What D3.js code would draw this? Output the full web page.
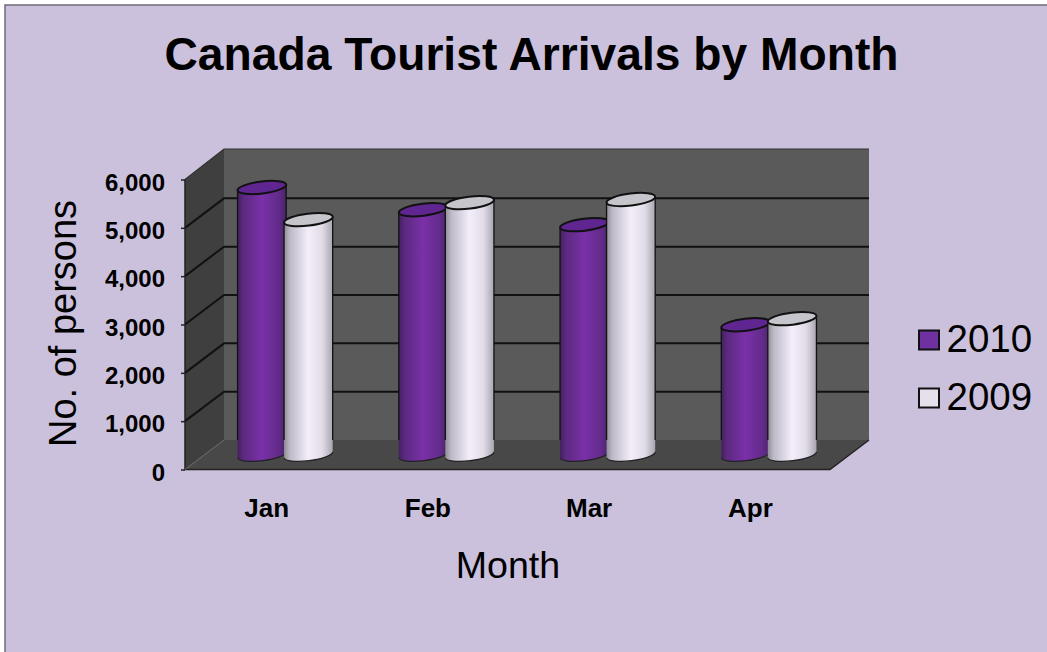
<!DOCTYPE html>
<html><head><meta charset="utf-8">
<script src="https://cdn.jsdelivr.net/npm/d3@7"></script>
<style>html,body{margin:0;padding:0;background:#fff}svg{display:block}text{font-family:"Liberation Sans",Arial,sans-serif;fill:#000}</style>
</head><body><svg id="c" width="1047" height="652"></svg>
<script>
const months = ["Jan","Feb","Mar","Apr"];
const years = ["2010","2009"];
const values2010 = [5530,5070,4760,2690];
const values2009 = [4865,5217,5280,2815];
const yTicks = [0,1000,2000,3000,4000,5000,6000];
const titleText = "Canada Tourist Arrivals by Month";
const yTitle = "No. of persons";
const xTitle = "Month";

const W=1047,H=652;
const svg=d3.select("#c");
const depthX=39, depthY=-29.5;
const y=d3.scaleLinear().domain([0,6000]).range([469.5,179.5]);
const x0=d3.scaleBand().domain(months).range([185,830]);
const x1=d3.scaleBand().domain(years).range([0,97]);
const fmt=d3.format(",");

const defs=svg.append("defs");
function grad(id,stops){
  const g=defs.append("linearGradient").attr("id",id).attr("x1","0").attr("x2","1").attr("y1","0").attr("y2","0");
  stops.forEach(s=>g.append("stop").attr("offset",s[0]).attr("stop-color",s[1]));
}
grad("gp",[[0,"#43205f"],[0.12,"#5b2a80"],[0.5,"#7a30a8"],[0.85,"#622b8a"],[1,"#4a2468"]]);
grad("gw",[[0,"#8f8d96"],[0.12,"#bdb9c6"],[0.5,"#f3eefa"],[0.78,"#e2dce9"],[1,"#a9a6b0"]]);
const gradId={"2010":"gp","2009":"gw"};
const topFill={"2010":"#5f2590","2009":"#c7c5cc"};
const legFill={"2010":"#7030a0","2009":"#e6e0ec"};
const shift={"2010":1,"2009":-1};

svg.append("rect").attr("x",5).attr("y",5).attr("width",W-5).attr("height",H-5).attr("fill","#cbc1dc");
svg.append("path").attr("fill","none").attr("stroke","#6f6b7a").attr("stroke-width",1.5)
  .attr("d",`M5,${H}L5,5L${W},5`);

svg.append("text").attr("x",531.5).attr("y",70).attr("text-anchor","middle")
  .attr("font-size",46.2).attr("font-weight","bold").text(titleText);

// walls
const yB=v=>y(v)+depthY, xL=185, xR=830;
const topBack=yB(6000)-1;
const poly=(pts,fill)=>svg.append("polygon").attr("points",pts.map(p=>p.join(",")).join(" ")).attr("fill",fill);
poly([[xL+depthX,topBack],[xR+depthX,topBack],[xR+depthX,yB(0)],[xL+depthX,yB(0)]],"#5a5a5a");
poly([[xL,y(6000)],[xL+depthX,topBack],[xL+depthX,yB(0)],[xL,y(0)]],"#3f3f3f");
poly([[xL,y(0)],[xR,y(0)],[xR+depthX,yB(0)],[xL+depthX,yB(0)]],"#484848");

// gridlines
const gl=svg.append("g");
yTicks.filter(v=>v>0&&v<6000).forEach(v=>{
  gl.append("path").attr("fill","none").attr("stroke","#111").attr("stroke-width",2)
    .attr("d",`M${xL},${y(v)}L${xL+depthX},${yB(v)}L${xR+depthX},${yB(v)}`);
});
svg.append("path").attr("fill","none").attr("stroke","#333").attr("stroke-width",1.2)
  .attr("d",`M${xL},${y(6000)}L${xL+depthX},${topBack}L${xR+depthX},${topBack}`);
svg.append("path").attr("fill","none").attr("stroke","#222").attr("stroke-width",1.5)
  .attr("d",`M${xL},${y(6000)}L${xL},${y(0)}L${xR},${y(0)}L${xR+depthX},${yB(0)}`);
svg.append("path").attr("fill","none").attr("stroke","#6a6a6a").attr("stroke-width",1)
  .attr("d",`M${xL},${y(0)}L${xL+depthX},${yB(0)}`);

// axes
const ax=d3.axisLeft(y).tickValues(yTicks).tickFormat(fmt).tickSize(4).tickPadding(16);
const ga=svg.append("g").attr("transform",`translate(${xL},0)`).call(ax);
ga.select(".domain").remove();
ga.selectAll("line").attr("stroke","#222").attr("stroke-width",1.5);
ga.selectAll("text").attr("font-size",24).attr("font-weight","bold").attr("fill","#000").attr("dy","0.44em")
  .attr("font-family",'"Liberation Sans",Arial,sans-serif');

const bx=d3.axisBottom(x0).tickSize(0).tickPadding(0);
const gb=svg.append("g").attr("transform",`translate(1,517)`).call(bx);
gb.select(".domain").remove();
gb.selectAll("text").attr("font-size",26).attr("font-weight","bold").attr("fill","#000").attr("y",0).attr("dy",0)
  .attr("font-family",'"Liberation Sans",Arial,sans-serif');

// cylinders
const rx=24.5, ry=6, tilt=-7;
const ex=rx*Math.cos(tilt*Math.PI/180), ey=rx*Math.sin(tilt*Math.PI/180);
const series=[["2010",values2010],["2009",values2009]];
const bars=svg.append("g");
months.forEach((m,i)=>{
  series.forEach(([yr,vals])=>{
    const cx=x0(m)+x0.bandwidth()/2+depthX/2+x1(yr)-48.5+x1.bandwidth()/2+shift[yr];
    const cyTop=y(vals[i])+depthY/2, cyBot=y(0)+depthY/2;
    const g=bars.append("g");
    const arc=`A${rx},${ry},${tilt},0,0,${cx+ex},${cyBot+ey}`;
    g.append("path").attr("fill",`url(#${gradId[yr]})`)
      .attr("d",`M${cx-ex},${cyTop-ey}L${cx-ex},${cyBot-ey}${arc}L${cx+ex},${cyTop+ey}Z`);
    g.append("path").attr("fill","none").attr("stroke","#111").attr("stroke-width",1.3)
      .attr("d",`M${cx-ex},${cyTop-ey}L${cx-ex},${yB(0)}M${cx+ex},${cyTop+ey}L${cx+ex},${yB(0)}`);
    g.append("path").attr("fill","none").attr("stroke","#222").attr("stroke-width",1.2)
      .attr("d",`M${cx-ex},${cyBot-ey}${arc}`);
    g.append("ellipse").attr("transform",`translate(${cx},${cyTop}) rotate(${tilt})`)
      .attr("rx",rx).attr("ry",ry).attr("fill",topFill[yr]).attr("stroke","#111").attr("stroke-width",2);
  });
});

// legend
const lg=svg.append("g");
years.forEach((yr,i)=>{
  const ly=340+i*58;
  lg.append("rect").attr("x",919).attr("y",ly-9.5).attr("width",20).attr("height",19)
    .attr("fill",legFill[yr]).attr("stroke","#111").attr("stroke-width",2);
  lg.append("text").attr("x",946.5).attr("y",ly+12).attr("font-size",38.5).text(yr);
});

// axis titles
svg.append("text").attr("transform","translate(76,323.5) rotate(-90)").attr("text-anchor","middle")
  .attr("font-size",38).text(yTitle);
svg.append("text").attr("x",508).attr("y",577.5).attr("text-anchor","middle").attr("font-size",37.6).text(xTitle);
</script></body></html>
